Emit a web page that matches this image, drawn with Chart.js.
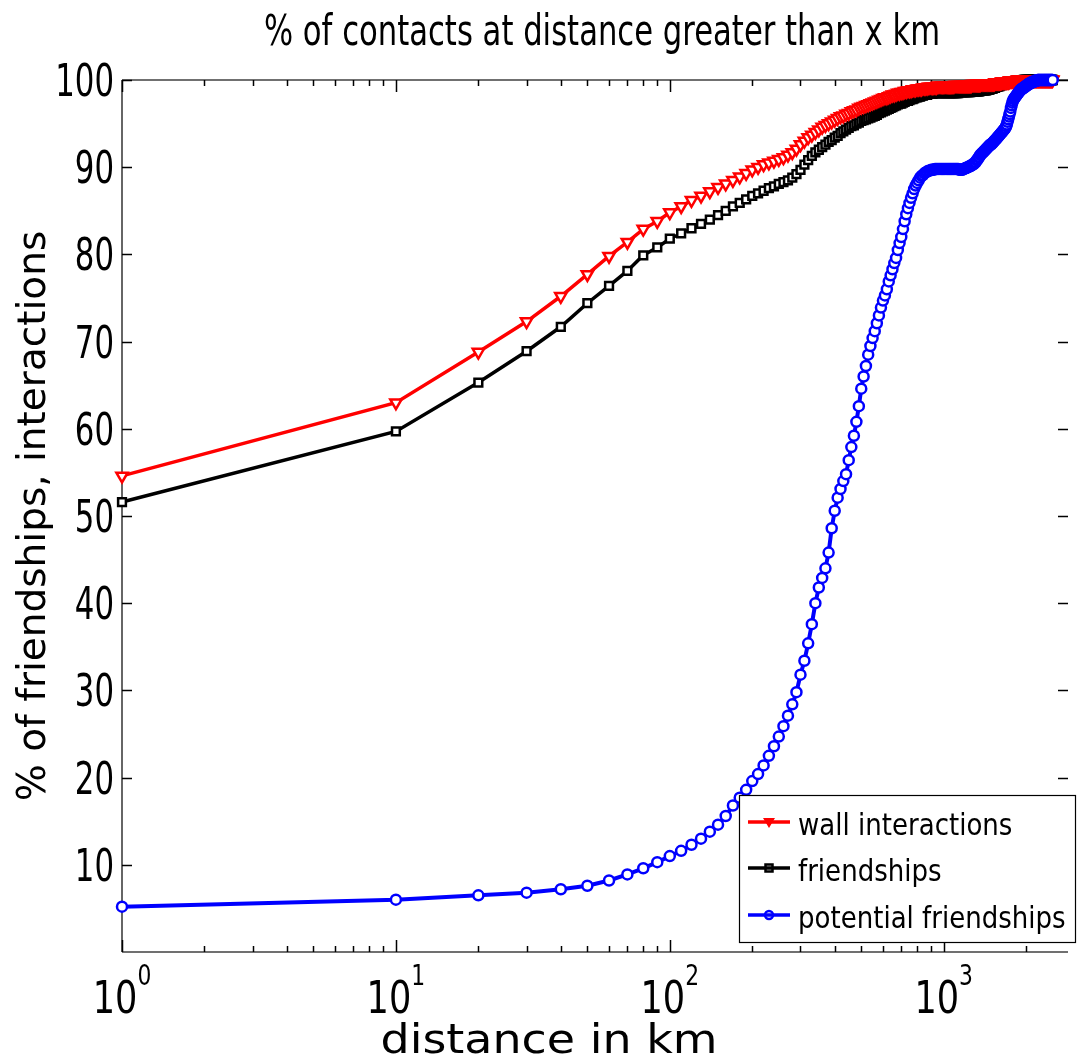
<!DOCTYPE html>
<html>
<head>
<meta charset="utf-8">
<script src="https://cdn.jsdelivr.net/npm/chart.js@4.4.0/dist/chart.umd.min.js"></script>
<style>
  html, body { margin: 0; padding: 0; background: #fff; overflow: hidden; }
</style>
</head>
<body>
<canvas id="chart" width="1077" height="1058"></canvas>
<script>
// distance in km (x values)
const distances = [1,
  10, 20, 30, 40, 50, 60, 70, 80, 90, 100,
  110, 120, 130, 140, 150, 160, 170, 180, 190, 200,
  210, 220, 230, 240, 250, 260, 270, 280, 290, 300,
  310, 320, 330, 340, 350, 360, 370, 380, 390, 400,
  410, 420, 430, 440, 450, 460, 470, 480, 490, 500,
  510, 520, 530, 540, 550, 560, 570, 580, 590, 600,
  610, 620, 630, 640, 650, 660, 670, 680, 690, 700,
  710, 720, 730, 740, 750, 760, 770, 780, 790, 800,
  810, 820, 830, 840, 850, 860, 870, 880, 890, 900,
  910, 920, 930, 940, 950, 960, 970, 980, 990, 1000,
  1010, 1020, 1030, 1040, 1050, 1060, 1070, 1080, 1090, 1100,
  1110, 1120, 1130, 1140, 1150, 1160, 1170, 1180, 1190, 1200,
  1210, 1220, 1230, 1240, 1250, 1260, 1270, 1280, 1290, 1300,
  1310, 1320, 1330, 1340, 1350, 1360, 1370, 1380, 1390, 1400,
  1410, 1420, 1430, 1440, 1450, 1460, 1470, 1480, 1490, 1500,
  1510, 1520, 1530, 1540, 1550, 1560, 1570, 1580, 1590, 1600,
  1610, 1620, 1630, 1640, 1650, 1660, 1670, 1680, 1690, 1700,
  1710, 1720, 1730, 1740, 1750, 1760, 1770, 1780, 1790, 1800,
  1810, 1820, 1830, 1840, 1850, 1860, 1870, 1880, 1890, 1900,
  1910, 1920, 1930, 1940, 1950, 1960, 1970, 1980, 1990, 2000,
  2010, 2020, 2030, 2040, 2050, 2060, 2070, 2080, 2090, 2100,
  2110, 2120, 2130, 2140, 2150, 2160, 2170, 2180, 2190, 2200,
  2210, 2220, 2230, 2240, 2250, 2260, 2270, 2280, 2290, 2300,
  2310, 2320, 2330, 2340, 2350, 2360, 2370, 2380, 2390, 2400,
  2410, 2420, 2430, 2440, 2450, 2460, 2470, 2480, 2490, 2500];

const wallInteractions = [54.6,
  63.0, 68.8, 72.3, 75.2, 77.7, 79.8, 81.4, 82.9, 83.8, 84.8,
  85.5, 86.2, 86.7, 87.2, 87.7, 88.1, 88.5, 88.9, 89.3, 89.7,
  90.0, 90.3, 90.5, 90.7, 90.9, 91.1, 91.4, 91.7, 92.1, 92.6,
  93.0, 93.4, 93.7, 94.0, 94.3, 94.6, 94.8, 95.0, 95.2, 95.4,
  95.6, 95.8, 95.9, 96.1, 96.2, 96.4, 96.5, 96.6, 96.8, 96.9,
  97.0, 97.1, 97.2, 97.3, 97.4, 97.5, 97.6, 97.7, 97.8, 97.9,
  98.0, 98.0, 98.1, 98.2, 98.3, 98.3, 98.4, 98.5, 98.5, 98.6,
  98.6, 98.7, 98.7, 98.8, 98.8, 98.8, 98.9, 98.9, 98.9, 99.0,
  99.0, 99.0, 99.0, 99.1, 99.1, 99.1, 99.1, 99.2, 99.2, 99.2,
  99.2, 99.2, 99.2, 99.2, 99.3, 99.3, 99.3, 99.3, 99.3, 99.3,
  99.3, 99.3, 99.3, 99.3, 99.3, 99.3, 99.3, 99.3, 99.3, 99.4,
  99.4, 99.4, 99.4, 99.4, 99.4, 99.4, 99.4, 99.4, 99.4, 99.4,
  99.4, 99.4, 99.4, 99.4, 99.4, 99.4, 99.5, 99.5, 99.5, 99.5,
  99.5, 99.5, 99.5, 99.5, 99.5, 99.5, 99.6, 99.6, 99.6, 99.6,
  99.6, 99.6, 99.6, 99.6, 99.6, 99.6, 99.6, 99.6, 99.6, 99.6,
  99.6, 99.6, 99.6, 99.7, 99.7, 99.7, 99.7, 99.7, 99.7, 99.7,
  99.7, 99.7, 99.8, 99.8, 99.8, 99.8, 99.8, 99.8, 99.8, 99.8,
  99.8, 99.8, 99.8, 99.9, 99.9, 99.9, 99.9, 99.9, 99.9, 99.9,
  99.9, 99.9, 99.9, 99.9, 99.9, 100, 100, 100, 100, 100,
  100, 100, 100, 100, 100, 100, 100, 100, 100, 100,
  100, 100, 100, 100, 100, 100, 100, 100, 100, 100,
  100, 100, 100, 100, 100, 100, 100, 100, 100, 100,
  100, 100, 100, 100, 100, 100, 100, 100, 100, 100,
  100, 100, 100, 100, 100, 100, 100, 100, 100, 100,
  100, 100, 100, 100, 100, 100, 100, 100, 100, 100,
  100, 100, 100, 100, 100, 100, 100, 100, 100, 100];

const friendships = [51.6,
  59.7, 65.3, 68.9, 71.7, 74.4, 76.4, 78.1, 79.9, 80.8, 81.8,
  82.4, 83.0, 83.5, 84.0, 84.5, 85.0, 85.5, 85.9, 86.3, 86.7,
  87.0, 87.3, 87.6, 87.8, 88.1, 88.3, 88.5, 88.8, 89.2, 89.7,
  90.3, 90.8, 91.3, 91.7, 92.0, 92.3, 92.6, 92.9, 93.1, 93.4,
  93.6, 93.9, 94.1, 94.3, 94.5, 94.7, 94.8, 95.0, 95.1, 95.3,
  95.4, 95.5, 95.6, 95.7, 95.8, 95.9, 96.0, 96.2, 96.3, 96.4,
  96.5, 96.6, 96.7, 96.8, 96.9, 97.0, 97.1, 97.2, 97.3, 97.3,
  97.4, 97.5, 97.6, 97.6, 97.7, 97.8, 97.8, 97.9, 98.0, 98.0,
  98.1, 98.1, 98.2, 98.2, 98.3, 98.3, 98.3, 98.4, 98.4, 98.4,
  98.4, 98.5, 98.5, 98.5, 98.5, 98.5, 98.5, 98.5, 98.5, 98.5,
  98.5, 98.5, 98.5, 98.5, 98.5, 98.5, 98.5, 98.5, 98.5, 98.5,
  98.5, 98.5, 98.5, 98.6, 98.6, 98.6, 98.6, 98.6, 98.6, 98.6,
  98.6, 98.6, 98.6, 98.6, 98.6, 98.7, 98.7, 98.7, 98.7, 98.7,
  98.7, 98.7, 98.7, 98.7, 98.7, 98.8, 98.8, 98.8, 98.8, 98.8,
  98.8, 98.8, 98.8, 98.9, 98.9, 98.9, 98.9, 99.0, 99.0, 99.0,
  99.0, 99.1, 99.1, 99.1, 99.2, 99.2, 99.2, 99.3, 99.3, 99.3,
  99.4, 99.4, 99.4, 99.5, 99.5, 99.5, 99.5, 99.6, 99.6, 99.6,
  99.6, 99.7, 99.7, 99.7, 99.7, 99.7, 99.8, 99.8, 99.8, 99.8,
  99.8, 99.8, 99.9, 99.9, 99.9, 99.9, 99.9, 99.9, 99.9, 99.9,
  99.9, 99.9, 99.9, 99.9, 99.9, 100, 100, 100, 100, 100,
  100, 100, 100, 100, 100, 100, 100, 100, 100, 100,
  100, 100, 100, 100, 100, 100, 100, 100, 100, 100,
  100, 100, 100, 100, 100, 100, 100, 100, 100, 100,
  100, 100, 100, 100, 100, 100, 100, 100, 100, 100,
  100, 100, 100, 100, 100, 100, 100, 100, 100, 100];

const potentialFriendships = [5.2,
  6.0, 6.5, 6.8, 7.2, 7.6, 8.2, 8.9, 9.6, 10.3, 11.0,
  11.6, 12.3, 13.0, 13.8, 14.6, 15.6, 16.8, 17.7, 18.6, 19.6,
  20.4, 21.4, 22.5, 23.6, 24.7, 25.9, 27.1, 28.4, 29.8, 31.8,
  33.4, 35.4, 37.6, 40.0, 41.8, 42.9, 44.0, 45.8, 48.6, 50.6,
  52.1, 53.1, 54.0, 54.8, 56.4, 57.9, 59.2, 60.8, 62.6, 64.6,
  66.0, 67.2, 68.5, 69.5, 70.4, 71.2, 72.1, 73.0, 73.9, 74.7,
  75.3, 76.0, 76.9, 77.6, 78.3, 79.0, 79.6, 80.5, 81.3, 82.0,
  82.9, 83.8, 84.6, 85.3, 85.9, 86.5, 87.0, 87.5, 87.9, 88.2,
  88.5, 88.8, 89.0, 89.1, 89.3, 89.4, 89.5, 89.6, 89.6, 89.7,
  89.7, 89.7, 89.8, 89.8, 89.8, 89.8, 89.8, 89.8, 89.8, 89.8,
  89.8, 89.8, 89.8, 89.8, 89.8, 89.8, 89.8, 89.8, 89.8, 89.8,
  89.8, 89.8, 89.8, 89.7, 89.7, 89.7, 89.7, 89.8, 89.8, 89.9,
  89.9, 90.0, 90.0, 90.1, 90.1, 90.2, 90.3, 90.3, 90.4, 90.5,
  90.6, 90.8, 90.9, 91.1, 91.2, 91.4, 91.5, 91.6, 91.7, 91.8,
  91.9, 92.0, 92.1, 92.2, 92.3, 92.4, 92.5, 92.6, 92.6, 92.7,
  92.8, 92.9, 93.0, 93.1, 93.2, 93.3, 93.4, 93.5, 93.6, 93.7,
  93.8, 93.9, 94.0, 94.1, 94.2, 94.3, 94.4, 94.5, 94.7, 94.9,
  95.2, 95.5, 95.8, 96.1, 96.4, 96.8, 97.1, 97.4, 97.6, 97.8,
  97.9, 98.0, 98.1, 98.2, 98.3, 98.4, 98.5, 98.6, 98.7, 98.8,
  98.9, 98.9, 99.0, 99.0, 99.1, 99.1, 99.2, 99.2, 99.3, 99.3,
  99.4, 99.4, 99.5, 99.5, 99.6, 99.6, 99.6, 99.7, 99.7, 99.7,
  99.8, 99.8, 99.8, 99.8, 99.9, 99.9, 99.9, 99.9, 99.9, 100,
  100, 100, 100, 100, 100, 100, 100, 100, 100, 100,
  100, 100, 100, 100, 100, 100, 100, 100, 100, 100,
  100, 100, 100, 100, 100, 100, 100, 100, 100, 100];

const yTickLabels = [10, 20, 30, 40, 50, 60, 70, 80, 90, 100];
const xTickValues = [1, 10, 100, 1000];
const xTickExponents = ["0", "1", "2", "3"];

const titleText = "% of contacts at distance greater than x km";
const xTitle = "distance in km";
const yTitle = "% of friendships, interactions";

const FONT = '"DejaVu Sans", sans-serif';

function toPoints(values) {
    return values.map((v, i) => ({ x: distances[i], y: v }));
}

// squeezed text, the figure uses narrow lettering
function drawText(ctx, text, x, y, size, sx, align) {
    ctx.save();
    ctx.translate(x, y);
    ctx.scale(sx, 1);
    ctx.font = size + "px " + FONT;
    ctx.textAlign = align;
    ctx.textBaseline = "alphabetic";
    ctx.fillStyle = "#000";
    ctx.fillText(text, 0, 0);
    ctx.restore();
}

function legendMarker(ctx, style, x, y, color) {
    ctx.save();
    ctx.strokeStyle = color;
    ctx.fillStyle = color;
    ctx.lineWidth = 2.5;
    ctx.beginPath();
    if (style === "triangle") {
        ctx.moveTo(x - 6, y - 4);
        ctx.lineTo(x + 6, y - 4);
        ctx.lineTo(x, y + 6);
        ctx.closePath();
        ctx.fill();
    } else if (style === "rect") {
        ctx.rect(x - 3.5, y - 3.5, 7, 7);
        ctx.stroke();
    } else {
        ctx.arc(x, y, 4, 0, Math.PI * 2);
        ctx.stroke();
    }
    ctx.restore();
}

const framePlugin = {
    id: "frame",
    beforeDatasetsDraw(chart) {
        const { ctx, chartArea: a, scales: { x, y } } = chart;
        ctx.save();
        // box (right side falls at the picture edge)
        ctx.strokeStyle = "#707070";
        ctx.lineWidth = 2;
        ctx.beginPath();
        ctx.moveTo(a.left, a.top); ctx.lineTo(a.right, a.top);
        ctx.moveTo(a.left, a.bottom); ctx.lineTo(a.right, a.bottom);
        ctx.stroke();
        ctx.strokeStyle = "#333";
        ctx.lineWidth = 1.5;
        ctx.beginPath();
        ctx.moveTo(a.left, a.top); ctx.lineTo(a.left, a.bottom);
        ctx.stroke();

        // inward ticks
        ctx.strokeStyle = "#000";
        ctx.lineWidth = 1.5;
        ctx.beginPath();
        for (let e = 0; e <= 3; e++) {
            for (let m = 1; m <= 9; m++) {
                const v = m * Math.pow(10, e);
                if (v > x.max) break;
                const px = Math.round(x.getPixelForValue(v)) + 0.5;
                const len = m === 1 ? 12 : 6;
                ctx.moveTo(px, a.bottom); ctx.lineTo(px, a.bottom - len);
                ctx.moveTo(px, a.top); ctx.lineTo(px, a.top + len);
            }
        }
        yTickLabels.forEach(v => {
            const py = Math.round(y.getPixelForValue(v)) + 0.5;
            ctx.moveTo(a.left, py); ctx.lineTo(a.left + 10, py);
            ctx.moveTo(a.right, py); ctx.lineTo(a.right - 10, py);
        });
        ctx.stroke();
        ctx.restore();
    },
    afterDatasetsDraw(chart) {
        const { ctx } = chart;
        // legend box inside the plot, lower right
        ctx.save();
        ctx.fillStyle = "#fff";
        ctx.fillRect(739, 795, 337, 148);
        ctx.strokeStyle = "#000";
        ctx.lineWidth = 1.2;
        ctx.strokeRect(739.5, 795.5, 336, 147);
        const rows = [822, 868, 915];
        chart.data.datasets.forEach((ds, i) => {
            const yy = rows[i];
            ctx.strokeStyle = ds.borderColor;
            ctx.lineWidth = 3.5;
            ctx.beginPath();
            ctx.moveTo(748, yy); ctx.lineTo(790, yy);
            ctx.stroke();
            legendMarker(ctx, ds.pointStyle, 769, yy, ds.borderColor);
            drawText(ctx, ds.label, 798, yy + 13, 31, 0.84, "left");
        });
        ctx.restore();
    },
    afterDraw(chart) {
        const { ctx, chartArea: a, scales: { x, y } } = chart;
        // title
        drawText(ctx, titleText, 602, 45, 42, 0.73, "center");

        // y tick labels
        yTickLabels.forEach(v => {
            const py = y.getPixelForValue(v);
            drawText(ctx, String(v), 114, py + 16, 44, 0.7, "right");
        });

        // x tick labels 10^n
        xTickValues.forEach((v, i) => {
            const px = x.getPixelForValue(v);
            ctx.save();
            ctx.font = "45px " + FONT;
            const w10 = ctx.measureText("10").width * 0.78;
            ctx.font = "28px " + FONT;
            const wExp = ctx.measureText(xTickExponents[i]).width * 0.78;
            ctx.restore();
            const start = px - (w10 + wExp) / 2;
            drawText(ctx, "10", start, 1013, 45, 0.78, "left");
            drawText(ctx, xTickExponents[i], start + w10, 985, 28, 0.78, "left");
        });

        // axis titles
        drawText(ctx, xTitle, 549, 1053, 41, 1.12, "center");
        ctx.save();
        ctx.translate(45, (a.top + a.bottom) / 2);
        ctx.rotate(-Math.PI / 2);
        ctx.font = "39px " + FONT;
        ctx.textAlign = "center";
        ctx.textBaseline = "alphabetic";
        ctx.fillStyle = "#000";
        ctx.fillText(yTitle, 0, 0);
        ctx.restore();
    }
};

const ctx = document.getElementById("chart");

new Chart(ctx, {
    type: "line",
    data: {
        datasets: [{
            label: "wall interactions",
            data: toPoints(wallInteractions),
            borderColor: "#ff0000",
            backgroundColor: "#ffffff",
            borderWidth: 3.5,
            pointStyle: "triangle",
            pointRotation: 180,
            pointRadius: 6.5,
            pointBorderWidth: 2.5,
            pointBackgroundColor: "#ffffff",
            pointBorderColor: "#ff0000",
            order: 2,
            clip: false,
        }, {
            label: "friendships",
            data: toPoints(friendships),
            borderColor: "#000000",
            backgroundColor: "#ffffff",
            borderWidth: 3.5,
            pointStyle: "rect",
            pointRadius: 5.5,
            pointBorderWidth: 2.5,
            pointBackgroundColor: "#ffffff",
            pointBorderColor: "#000000",
            order: 3,
            clip: false,
        }, {
            label: "potential friendships",
            data: toPoints(potentialFriendships),
            borderColor: "#0000ff",
            backgroundColor: "#ffffff",
            borderWidth: 4,
            pointStyle: "circle",
            pointRadius: 5,
            pointBorderWidth: 2.5,
            pointBackgroundColor: "#ffffff",
            pointBorderColor: "#0000ff",
            order: 1,
            clip: false,
        }],
    },
    options: {
        responsive: false,
        animation: false,
        events: [],
        layout: { padding: { left: 122, right: 0, top: 80, bottom: 106 } },
        elements: { line: { tension: 0 } },
        plugins: {
            legend: { display: false },
            title: { display: false },
            tooltip: { enabled: false },
        },
        scales: {
            x: { type: "logarithmic", min: 1, max: 2843, display: false },
            y: { type: "linear", min: 0, max: 100, display: false },
        },
    },
    plugins: [framePlugin],
});
</script>
</body>
</html>
